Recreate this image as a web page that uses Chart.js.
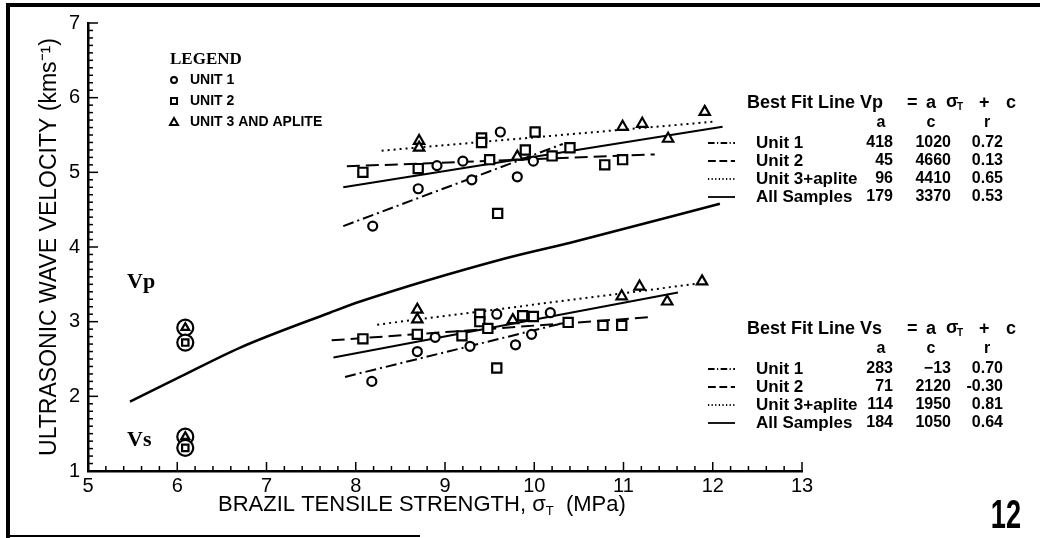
<!DOCTYPE html>
<html>
<head>
<meta charset="utf-8">
<script src="https://cdn.jsdelivr.net/npm/chart.js@4.4.1/dist/chart.umd.min.js"></script>
<style>
  html, body { margin: 0; padding: 0; background: #fff; }
</style>
</head>
<body>
<canvas id="chart" width="1040" height="538" style="width:1040px;height:538px;display:block"></canvas>
<script>
// axes
const xTicks = [5, 6, 7, 8, 9, 10, 11, 12, 13];
const yTicks = [1, 2, 3, 4, 5, 6, 7];

// Vp measurements [tensile strength MPa, velocity km/s]
const vpUnit1 = [[8.19,4.28],[8.70,4.78],[8.91,5.09],[9.20,5.15],[9.30,4.90],[9.62,5.54],[9.81,4.94],[9.99,5.15]];
const vpUnit2 = [[8.08,5.00],[8.70,5.05],[9.41,5.46],[9.41,5.40],[9.50,5.17],[9.59,4.45],[9.90,5.30],[10.01,5.54],[10.20,5.22],[10.40,5.33],[10.79,5.10],[10.99,5.17]];
const vpUnit3 = [[8.71,5.42],[8.71,5.33],[9.81,5.21],[10.99,5.61],[11.21,5.65],[11.50,5.45],[11.91,5.81]];

// Vs measurements
const vsUnit1 = [[8.18,2.20],[8.69,2.60],[8.89,2.79],[9.28,2.67],[9.58,3.10],[9.79,2.69],[9.97,2.83],[10.18,3.12]];
const vsUnit2 = [[8.08,2.77],[8.69,2.83],[9.19,2.81],[9.39,3.10],[9.39,3.00],[9.48,2.91],[9.58,2.38],[9.87,3.08],[9.99,3.07],[10.38,2.99],[10.77,2.95],[10.98,2.95]];
const vsUnit3 = [[8.69,3.16],[8.69,3.03],[9.76,3.02],[10.98,3.34],[11.18,3.47],[11.49,3.27],[11.88,3.54]];

// circled samples at 6.1 MPa
const outTri = [[6.09,2.92],[6.09,1.46]];
const outSq = [[6.09,2.72],[6.09,1.31]];

// best fit lines (end points)
const vpFit1 = [[7.86,4.28],[10.32,5.38]];
const vpFit2 = [[7.90,5.08],[11.35,5.24]];
const vpFit3 = [[8.29,5.29],[12.03,5.68]];
const vpFitAll = [[7.86,4.80],[12.11,5.61]];
const vsFit1 = [[7.88,2.26],[10.32,2.98]];
const vsFit2 = [[7.73,2.75],[11.30,3.06]];
const vsFit3 = [[8.24,2.96],[11.97,3.53]];
const vsFitAll = [[7.75,2.52],[11.61,3.39]];

// long curve
const curve = [[5.47,1.93],[6.03,2.26],[6.70,2.65],[7.71,3.12],[8.05,3.27],[9.65,3.84],[10.48,4.08],[12.08,4.58]];

// fit tables
const fitLabels = ['Unit 1', 'Unit 2', 'Unit 3+aplite', 'All Samples'];
const vpA = ['418', '45', '96', '179'];
const vpC = ['1020', '4660', '4410', '3370'];
const vpR = ['0.72', '0.13', '0.65', '0.53'];
const vsA = ['283', '71', '114', '184'];
const vsC = ['\u221213', '2120', '1950', '1050'];
const vsR = ['0.70', '-0.30', '0.81', '0.64'];

const SANS = '"Liberation Sans", Arial, sans-serif';
const SERIF = '"Liberation Serif", "DejaVu Serif", serif';
const dash1 = [11, 4, 2, 4];
const dash2 = [13, 6];
const dash3 = [2, 4];

const pts = arr => arr.map(([x, y]) => ({ x, y }));

function marks(data, style, r) {
  return {
    data: pts(data), pointStyle: style, pointRadius: r, pointBorderWidth: 2.2,
    borderColor: '#000', backgroundColor: '#fff', showLine: false
  };
}
function fitLine(data, dash, w) {
  return {
    data: pts(data), showLine: true, pointRadius: 0, borderColor: '#000',
    borderWidth: w || 2, borderDash: dash, fill: false
  };
}

function drawLineSample(ctx, x0, x1, y, dash) {
  ctx.save();
  ctx.setLineDash(dash);
  ctx.lineWidth = 1.8;
  ctx.beginPath(); ctx.moveTo(x0, y); ctx.lineTo(x1, y); ctx.stroke();
  ctx.restore();
}

function drawTable(ctx, top, name, a, c, r) {
  ctx.font = 'bold 18px ' + SANS;
  ctx.textBaseline = 'middle';
  ctx.textAlign = 'left';
  ctx.fillText('Best Fit Line ' + name, 747, top);
  ctx.fillText('=', 907, top);
  ctx.fillText('a', 926, top);
  ctx.fillText('\u03c3', 946, top - 1);
  ctx.font = 'bold 10px ' + SANS;
  ctx.fillText('T', 957, top + 4);
  ctx.font = 'bold 18px ' + SANS;
  ctx.fillText('+', 979, top);
  ctx.fillText('c', 1006, top);
  ctx.font = 'bold 16px ' + SANS;
  ctx.textAlign = 'center';
  ctx.fillText('a', 881, top + 20);
  ctx.fillText('c', 931, top + 20);
  ctx.fillText('r', 987, top + 20);
  const dashes = [dash1, dash2, dash3, []];
  for (let i = 0; i < 4; i++) {
    const y = top + 40 + i * 18;
    drawLineSample(ctx, 708, 735, y, dashes[i].map(d => d * 0.6));
    ctx.font = 'bold 17px ' + SANS;
    ctx.textAlign = 'left';
    ctx.fillText(fitLabels[i], 756, y);
    ctx.font = 'bold 16px ' + SANS;
    ctx.textAlign = 'right';
    ctx.fillText(a[i], 893, y);
    ctx.fillText(c[i], 951, y);
    ctx.fillText(r[i], 1003, y);
  }
}

const decor = {
  id: 'decor',
  beforeDraw(chart) {
    const ctx = chart.ctx;
    ctx.save();
    ctx.fillStyle = '#fff';
    ctx.fillRect(0, 0, chart.width, chart.height);
    ctx.restore();
  },
  afterDraw(chart) {
    const ctx = chart.ctx;
    const xs = chart.scales.x, ys = chart.scales.y;
    ctx.save();
    ctx.strokeStyle = '#000';
    ctx.fillStyle = '#000';

    // inward tick marks
    ctx.lineWidth = 1.5;
    const ax = xs.left, ay = ys.bottom;
    for (let i = 0; i <= 60; i++) {
      const py = ys.getPixelForValue(1 + i / 10);
      const len = i % 10 === 0 ? 10 : 5;
      ctx.beginPath(); ctx.moveTo(ax, py); ctx.lineTo(ax + len, py); ctx.stroke();
    }
    for (let i = 0; i <= 40; i++) {
      const px = xs.getPixelForValue(5 + i / 5);
      const len = i % 5 === 0 ? 9 : 5;
      ctx.beginPath(); ctx.moveTo(px, ay); ctx.lineTo(px, ay - len); ctx.stroke();
    }

    // x axis title with subscript
    ctx.textBaseline = 'middle';
    ctx.textAlign = 'left';
    ctx.font = '22px ' + SANS;
    let tx = 218;
    const part1 = 'BRAZIL TENSILE STRENGTH, \u03c3';
    ctx.fillText(part1, tx, 505);
    tx += ctx.measureText(part1).width;
    ctx.font = '13px ' + SANS;
    ctx.fillText('T', tx, 511);
    tx += ctx.measureText('T').width;
    ctx.font = '22px ' + SANS;
    ctx.fillText('  (MPa)', tx, 505);

    // legend box
    ctx.font = 'bold 17px ' + SERIF;
    ctx.fillText('LEGEND', 170, 60);
    ctx.font = 'bold 14px ' + SANS;
    ctx.fillText('UNIT 1', 190, 80);
    ctx.fillText('UNIT 2', 190, 101);
    ctx.fillText('UNIT 3 AND APLITE', 190, 122);
    ctx.lineWidth = 2;
    ctx.beginPath(); ctx.arc(174, 80, 3, 0, Math.PI * 2); ctx.stroke();
    ctx.strokeRect(171, 98, 6, 6);
    ctx.beginPath(); ctx.moveTo(174, 118); ctx.lineTo(178, 125); ctx.lineTo(170, 125); ctx.closePath(); ctx.stroke();

    // Vp / Vs labels
    ctx.font = 'bold 22px ' + SERIF;
    ctx.fillText('Vp', 127, 282);
    ctx.fillText('Vs', 127, 440);

    // fit tables
    drawTable(ctx, 103, 'Vp', vpA, vpC, vpR);
    drawTable(ctx, 329, 'Vs', vsA, vsC, vsR);

    // figure number
    ctx.save();
    ctx.translate(1006, 515);
    ctx.scale(0.68, 1);
    ctx.font = 'bold 40px ' + SANS;
    ctx.textAlign = 'center';
    ctx.fillText('12', 0, 2);
    ctx.restore();

    // frame
    ctx.lineWidth = 4;
    ctx.beginPath(); ctx.moveTo(8, 538); ctx.lineTo(8, 5); ctx.lineTo(1040, 5); ctx.stroke();
    ctx.lineWidth = 2;
    ctx.beginPath(); ctx.moveTo(8, 536); ctx.lineTo(420, 536); ctx.stroke();
    ctx.restore();
  }
};

new Chart(document.getElementById('chart').getContext('2d'), {
  type: 'scatter',
  data: {
    datasets: [
      marks(vpUnit1, 'circle', 4.5),
      marks(vpUnit2, 'rect', 6.5),
      marks(vpUnit3, 'triangle', 6),
      marks(vsUnit1, 'circle', 4.5),
      marks(vsUnit2, 'rect', 6.5),
      marks(vsUnit3, 'triangle', 6),
      marks(outTri, 'triangle', 4.5),
      marks(outSq, 'rect', 4.5),
      marks(outTri.concat(outSq), 'circle', 8),
      fitLine(vpFit1, dash1),
      fitLine(vpFit2, dash2),
      fitLine(vpFit3, dash3),
      fitLine(vpFitAll, []),
      fitLine(vsFit1, dash1),
      fitLine(vsFit2, dash2),
      fitLine(vsFit3, dash3),
      fitLine(vsFitAll, []),
      Object.assign(fitLine(curve, [], 2.5), { cubicInterpolationMode: 'monotone' })
    ]
  },
  options: {
    responsive: false,
    animation: false,
    layout: { padding: { left: 0, right: 238, top: 23, bottom: 0 } },
    plugins: { legend: { display: false }, tooltip: { enabled: false } },
    scales: {
      x: {
        type: 'linear', min: 5, max: 13,
        afterFit(s) { s.height = 67; },
        afterBuildTicks(s) { s.ticks = xTicks.map(v => ({ value: v })); },
        ticks: { color: '#000', font: { family: SANS, size: 20 }, padding: 3, maxRotation: 0 },
        grid: { display: false, drawTicks: false },
        border: { display: true, color: '#000', width: 2.5 }
      },
      y: {
        type: 'linear', min: 1, max: 7,
        afterFit(s) { s.width = 88; },
        afterBuildTicks(s) { s.ticks = yTicks.map(v => ({ value: v })); },
        ticks: { color: '#000', font: { family: SANS, size: 20 }, padding: 8 },
        grid: { display: false, drawTicks: false },
        border: { display: true, color: '#000', width: 2.5 },
        title: {
          display: true, text: 'ULTRASONIC WAVE VELOCITY (kms\u207b\u00b9)', color: '#000',
          font: { family: SANS, size: 23 }, padding: { top: 36, bottom: 0 }
        }
      }
    }
  },
  plugins: [decor]
});
</script>
</body>
</html>
